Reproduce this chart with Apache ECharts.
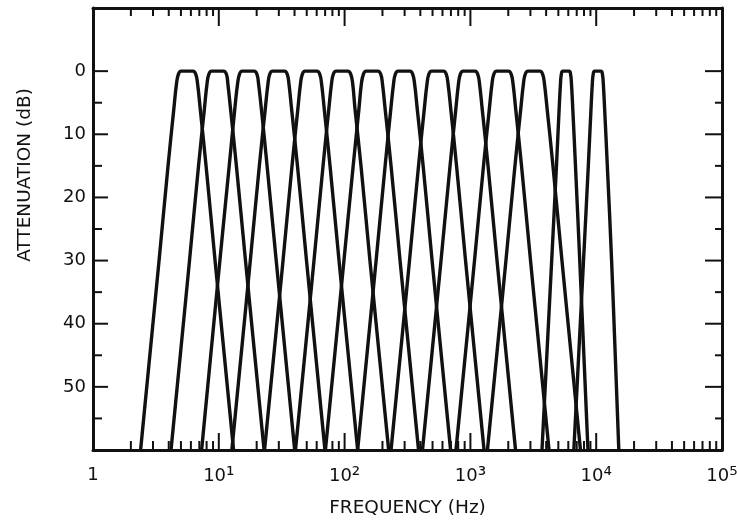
<!DOCTYPE html>
<html>
<head>
<meta charset="utf-8">
<script src="https://cdn.jsdelivr.net/npm/echarts@6/dist/echarts.min.js"></script>
<style>
  html, body { margin: 0; padding: 0; background: #fff; }
  #chart { width: 737px; height: 521px; }
</style>
</head>
<body>
<div id="chart"></div>
<script>
// attenuation (dB) at each point of a filter curve, left skirt -> top -> right skirt
const levels = [60, 30, 15, 6, 2, 0.5, 0, 0, 0.5, 2, 6, 15, 30, 60]

// frequency (Hz) of each point, one array per filter
const filter1 = [2.39, 3.35, 3.95, 4.39, 4.61, 4.77, 5.01, 6.24, 6.56, 6.78, 7.12, 7.92, 9.34, 13.1]
const filter2 = [4.17, 5.85, 6.90, 7.68, 8.06, 8.33, 8.75, 10.9, 11.5, 11.8, 12.4, 13.8, 16.3, 22.9]
const filter3 = [7.30, 10.2, 12.1, 13.4, 14.1, 14.6, 15.3, 19.1, 20.1, 20.7, 21.8, 24.2, 28.6, 40.1]
const filter4 = [12.7, 17.8, 21.0, 23.4, 24.6, 25.4, 26.7, 33.3, 35.0, 36.1, 37.9, 42.2, 49.8, 69.8]
const filter5 = [23.1, 32.4, 38.2, 42.5, 44.6, 46.1, 48.5, 60.4, 63.5, 65.6, 68.9, 76.6, 90.3, 127]
const filter6 = [40.7, 57.1, 67.4, 74.9, 78.7, 81.3, 85.5, 106, 112, 116, 121, 135, 159, 224]
const filter7 = [70.4, 98.8, 117, 130, 136, 141, 148, 184, 194, 200, 210, 234, 276, 387]
const filter8 = [127, 178, 210, 233, 245, 253, 266, 331, 348, 360, 378, 421, 496, 696]
const filter9 = [234, 328, 387, 430, 452, 467, 491, 612, 643, 664, 698, 776, 915, 1284]
const filter10 = [416, 584, 689, 766, 804, 831, 874, 1088, 1144, 1182, 1241, 1381, 1628, 2284]
const filter11 = [768, 1078, 1271, 1414, 1485, 1535, 1613, 2009, 2111, 2182, 2291, 2549, 3006, 4217]
const filter12 = [1366, 1916, 2260, 2514, 2640, 2728, 2867, 3571, 3754, 3878, 4074, 4531, 5344, 7498]
const filter13 = [3707, 4427, 4832, 5075, 5199, 5285, 5425, 6095, 6256, 6360, 6515, 6843, 7400, 8602]
const filter14 = [6641, 7929, 8655, 9091, 9313, 9467, 9717, 10918, 11206, 11392, 11670, 12257, 13256, 15130]

const filters = [filter1, filter2, filter3, filter4, filter5, filter6, filter7,
  filter8, filter9, filter10, filter11, filter12, filter13, filter14]

// axis ticks
const xMajor = [1, 10, 100, 1000, 10000, 100000]
const xLabelBase = ['1', '10', '10', '10', '10', '10']
const xLabelExp = ['', '¹', '²', '³', '⁴', '⁵']
const xMinor = [2, 3, 4, 5, 6, 7, 8, 9,
  20, 30, 40, 50, 60, 70, 80, 90,
  200, 300, 400, 500, 600, 700, 800, 900,
  2000, 3000, 4000, 5000, 6000, 7000, 8000, 9000,
  20000, 30000, 40000, 50000, 60000, 70000, 80000, 90000]
const yMajor = [0, 10, 20, 30, 40, 50]
const yMinor = [5, 15, 25, 35, 45, 55]

const ink = '#111'
const font = 'DejaVu Sans'

function xTicks (data, lenTop, lenBottom) {
  return {
    type: 'custom',
    silent: true,
    data: data.map(v => [v, 0]),
    renderItem (params, api) {
      const t = api.coord([api.value(0), -10])
      const b = api.coord([api.value(0), 60])
      return {
        type: 'group',
        children: [
          { type: 'line', shape: { x1: t[0], y1: t[1], x2: t[0], y2: t[1] + lenTop }, style: { stroke: ink, lineWidth: 2 } },
          { type: 'line', shape: { x1: b[0], y1: b[1], x2: b[0], y2: b[1] - lenBottom }, style: { stroke: ink, lineWidth: 2 } }
        ]
      }
    }
  }
}

function yTicks (data, lenLeft, lenRight) {
  return {
    type: 'custom',
    silent: true,
    data: data.map(v => [1, v]),
    renderItem (params, api) {
      const l = api.coord([1, api.value(1)])
      const r = api.coord([100000, api.value(1)])
      return {
        type: 'group',
        children: [
          { type: 'line', shape: { x1: l[0], y1: l[1], x2: l[0] + lenLeft, y2: l[1] }, style: { stroke: ink, lineWidth: 2 } },
          { type: 'line', shape: { x1: r[0], y1: r[1], x2: r[0] - lenRight, y2: r[1] }, style: { stroke: ink, lineWidth: 2 } }
        ]
      }
    }
  }
}

const lineSeries = filters.map((f, i) => ({
  name: 'filter' + (i + 1),
  type: 'line',
  showSymbol: false,
  smooth: 0.45,
  silent: true,
  lineStyle: { color: ink, width: 3.4 },
  data: f.map((v, k) => [v, levels[k]])
}))

const frame = { show: true, onZero: false, lineStyle: { color: ink, width: 3 } }

const chart = echarts.init(document.getElementById('chart'))
chart.setOption({
  animation: false,
  backgroundColor: '#fff',
  grid: { left: 93, right: 15, top: 8, bottom: 71, outerBoundsMode: 'none' },
  xAxis: [{
    type: 'log',
    logBase: 10,
    min: 1,
    max: 100000,
    position: 'bottom',
    axisLine: frame,
    axisTick: { show: false },
    splitLine: { show: false },
    name: 'FREQUENCY (Hz)',
    nameLocation: 'middle',
    nameGap: 49,
    nameTextStyle: { color: ink, fontSize: 18.5, fontFamily: font },
    axisLabel: {
      margin: 16,
      formatter (value) {
        const i = xMajor.findIndex(m => Math.abs(Math.log10(m) - Math.log10(value)) < 1e-6)
        if (i < 0) return ''
        return '{b|' + xLabelBase[i] + '}' + (xLabelExp[i] ? '{s|' + xLabelExp[i] + '}' : '')
      },
      rich: {
        b: { fontSize: 18, fontFamily: font, color: ink },
        s: { fontSize: 21, fontFamily: font, color: ink }
      }
    }
  }, {
    type: 'log',
    logBase: 10,
    min: 1,
    max: 100000,
    position: 'top',
    axisLine: frame,
    axisTick: { show: false },
    axisLabel: { show: false },
    splitLine: { show: false }
  }],
  yAxis: [{
    type: 'value',
    inverse: true,
    min: -10,
    max: 60,
    interval: 10,
    position: 'left',
    axisLine: frame,
    axisTick: { show: false },
    splitLine: { show: false },
    axisLabel: {
      margin: 7,
      color: ink,
      fontSize: 18,
      fontFamily: font,
      formatter: v => (yMajor.indexOf(v) >= 0 ? String(v) : '')
    }
  }, {
    type: 'value',
    inverse: true,
    min: -10,
    max: 60,
    interval: 10,
    position: 'right',
    axisLine: frame,
    axisTick: { show: false },
    axisLabel: { show: false },
    splitLine: { show: false }
  }],
  graphic: [{
    type: 'text',
    x: 25,
    y: 175,
    rotation: Math.PI / 2,
    style: {
      text: 'ATTENUATION (dB)',
      fill: ink,
      font: '18.5px "DejaVu Sans"',
      align: 'center',
      verticalAlign: 'middle'
    }
  }],
  series: [
    xTicks(xMajor, 18, 17),
    xTicks(xMinor, 8, 9),
    yTicks(yMajor, 15, 17),
    yTicks(yMinor, 9, 7)
  ].concat(lineSeries)
})
</script>
</body>
</html>
